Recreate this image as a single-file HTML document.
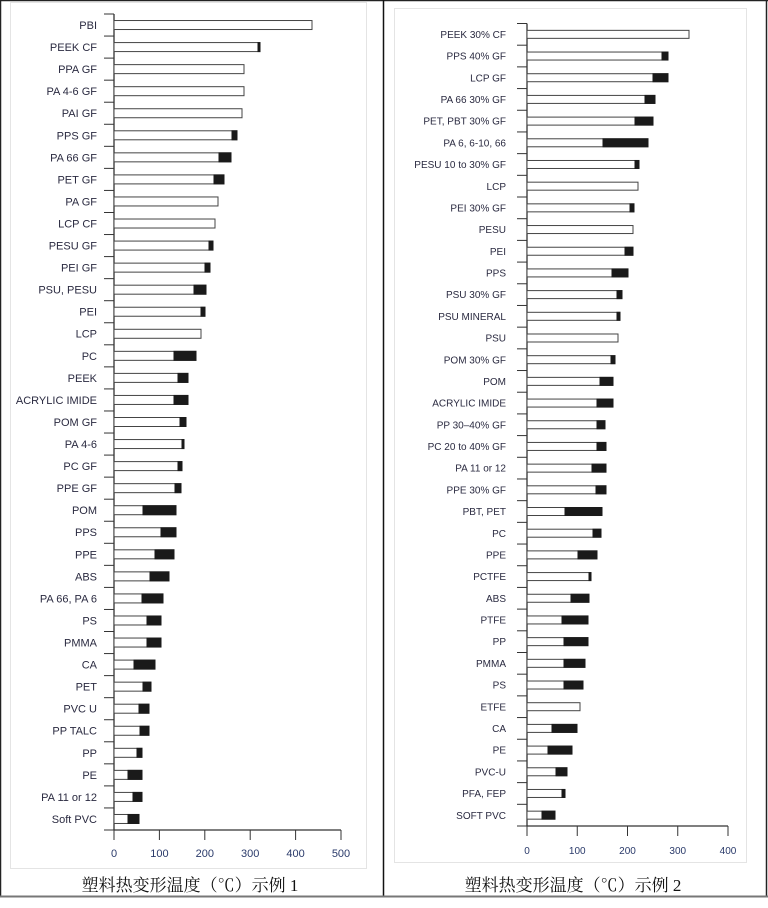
<!DOCTYPE html>
<html><head><meta charset="utf-8"><style>
html,body{margin:0;padding:0;background:#fff;}
svg{display:block;font-family:"Liberation Sans",Arial,sans-serif;}
</style></head><body>
<svg id="s" width="768" height="908" viewBox="0 0 768 908" xmlns="http://www.w3.org/2000/svg">
<rect x="0" y="0" width="768" height="908" fill="#fff"/>
<rect x="10.5" y="2.5" width="356" height="866" fill="none" stroke="#e4e4e4"/>
<rect x="394.5" y="8.5" width="352" height="854" fill="none" stroke="#e4e4e4"/>
<line x1="0" y1="0.5" x2="768" y2="0.5" stroke="#222" stroke-width="1.5"/>
<line x1="0.5" y1="0" x2="0.5" y2="897" stroke="#222" stroke-width="1.5"/>
<line x1="383.5" y1="0" x2="383.5" y2="897" stroke="#111" stroke-width="1.5"/>
<line x1="766.5" y1="0" x2="766.5" y2="897" stroke="#222" stroke-width="1.5"/>
<line x1="0" y1="896.5" x2="768" y2="896.5" stroke="#777" stroke-width="2"/>
<text x="190" y="891" text-anchor="middle" font-family="'Liberation Serif','Noto Serif CJK SC',serif" font-size="17" fill="#111">塑料热变形温度（℃）示例 1</text>
<text x="573" y="891" text-anchor="middle" font-family="'Liberation Serif','Noto Serif CJK SC',serif" font-size="17" fill="#111">塑料热变形温度（℃）示例 2</text>
<g id="g"></g>
</svg>
<script>
var NS="http://www.w3.org/2000/svg",g=document.getElementById("g");
function el(t,a,txt){var e=document.createElementNS(NS,t);for(var k in a)e.setAttribute(k,a[k]);if(txt!=null)e.textContent=txt;g.appendChild(e);return e;}
var L=[["PBI",312,0],["PEEK  CF",258,260],["PPA GF",244,0],["PA 4-6 GF",244,0],["PAI GF",242,0],["PPS GF",232,237],["PA 66 GF",219,231],["PET GF",214,224],["PA GF",218,0],["LCP  CF",215,0],["PESU GF",209,213],["PEI GF",205,210],["PSU, PESU",194,206],["PEI",201,205],["LCP",201,0],["PC",174,196],["PEEK",178,188],["ACRYLIC IMIDE",174,188],["POM GF",180,186],["PA 4-6",182,184],["PC GF",178,182],["PPE GF",175,181],["POM",143,176],["PPS",161,176],["PPE",155,174],["ABS",150,169],["PA 66, PA 6",142,163],["PS",147,161],["PMMA",147,161],["CA",134,155],["PET",143,151],["PVC U",139,149],["PP TALC",140,149],["PP",137,142],["PE",128,142],["PA 11 or 12",133,142],["Soft PVC",128,139]];
var R=[["PEEK 30% CF",689,0],["PPS 40% GF",662,668],["LCP GF",653,668],["PA 66 30% GF",645,655],["PET, PBT 30% GF",635,653],["PA 6, 6-10, 66",603,648],["PESU 10 to 30% GF",635,639],["LCP",638,0],["PEI 30% GF",630,634],["PESU",633,0],["PEI",625,633],["PPS",612,628],["PSU 30% GF",617,622],["PSU MINERAL",617,620],["PSU",618,0],["POM 30% GF",611,615],["POM",600,613],["ACRYLIC IMIDE",597,613],["PP 30–40% GF",597,605],["PC 20 to 40% GF",597,606],["PA 11 or 12",592,606],["PPE 30% GF",596,606],["PBT, PET",565,602],["PC",593,601],["PPE",578,597],["PCTFE",589,591],["ABS",571,589],["PTFE",562,588],["PP",564,588],["PMMA",564,585],["PS",564,583],["ETFE",580,0],["CA",552,577],["PE",548,572],["PVC-U",556,567],["PFA, FEP",562,565],["SOFT PVC",542,555]];
function chart(D,x0,top,bot,lx,fs,bh,ticks,x1,tly){
 var n=D.length,sp=(bot-top)/n;
 el("line",{x1:x0,y1:top,x2:x0,y2:bot,stroke:"#333","stroke-width":1.3});
 for(var i=0;i<=n;i++){var y=top+i*sp;el("line",{x1:x0-10,y1:y,x2:x0,y2:y,stroke:"#333","stroke-width":1});}
 for(var i=0;i<n;i++){var d=D[i],c=top+(i+0.5)*sp,y=c-bh/2;
  var end=d[2]||d[1];
  el("rect",{x:x0,y:y,width:end-x0,height:bh,fill:"#fff",stroke:"#444","stroke-width":1});
  if(d[2])el("rect",{x:d[1],y:y,width:d[2]-d[1],height:bh,fill:"#1a1a1a",stroke:"#1a1a1a","stroke-width":1});
  el("text",{x:lx,y:c+fs*0.36,"text-anchor":"end","font-size":fs,fill:"#2a2a40"},d[0]);
 }
 el("line",{x1:x0,y1:bot,x2:x1,y2:bot,stroke:"#333","stroke-width":1.3});
 for(var j=0;j<ticks.length;j++){var x=x0+(x1-x0)*j/(ticks.length-1);
  el("line",{x1:x,y1:bot,x2:x,y2:bot+10,stroke:"#333","stroke-width":1});
  el("text",{x:x,y:tly,"text-anchor":"middle","font-size":fs,fill:"#2a3a6a"},ticks[j]);}
}
chart(L,114,14,830,97,11,9,["0","100","200","300","400","500"],341,857);
chart(R,527,23.5,826,506,10,8,["0","100","200","300","400"],728,854);
</script>
</body></html>
